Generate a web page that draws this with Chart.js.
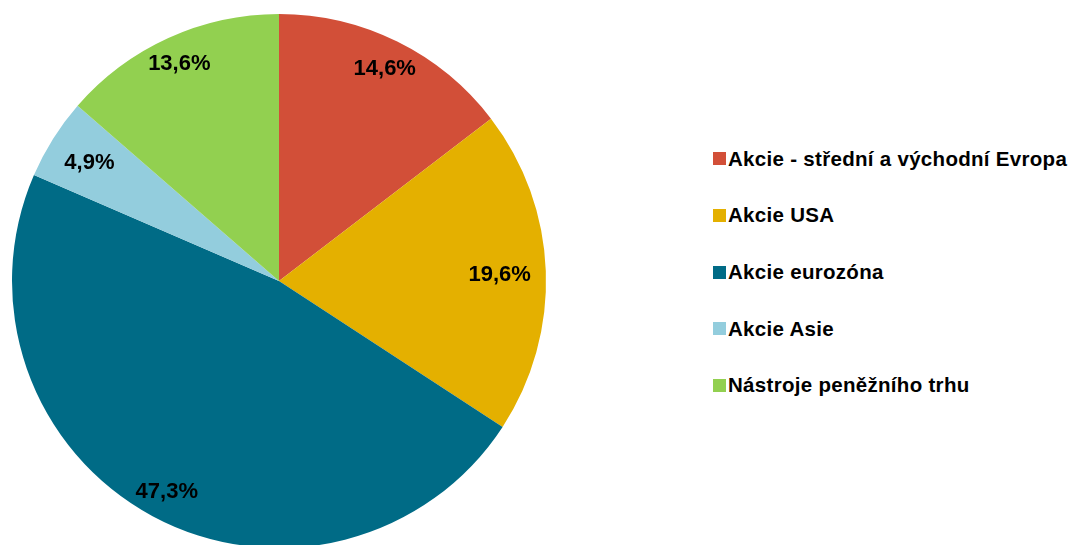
<!DOCTYPE html>
<html>
<head>
<meta charset="utf-8">
<script src="https://cdn.jsdelivr.net/npm/chart.js@4/dist/chart.umd.min.js"></script>
<style>
  html, body { margin: 0; padding: 0; background: #fff; overflow: hidden; width: 1073px; height: 545px; }
  #wrap { position: absolute; left: 0; top: 0; width: 560px; height: 562px; }
  #legend { position: absolute; left: 713px; top: 130.35px; font-family: "Liberation Sans", Arial, sans-serif; font-weight: bold; font-size: 20.5px; letter-spacing: 0.3px; color: #000; }
  .item { height: 56.7px; display: flex; align-items: center; white-space: nowrap; }
  .sw { width: 12.5px; height: 13px; margin-right: 2.5px; flex: none; }
</style>
</head>
<body>
<div id="wrap"><canvas id="c"></canvas></div>
<div id="legend"></div>
<script>
const categories = ["Akcie - střední a východní Evropa", "Akcie USA", "Akcie eurozóna", "Akcie Asie", "Nástroje peněžního trhu"];
const values = [14.6, 19.6, 47.3, 4.9, 13.6];
const valueLabels = ["14,6%", "19,6%", "47,3%", "4,9%", "13,6%"];
const colors = ["#D24F38", "#E4B000", "#006B86", "#93CDDD", "#92D050"];

const labelPlugin = {
  id: 'sliceLabels',
  afterDatasetsDraw(chart) {
    const ctx = chart.ctx;
    const meta = chart.getDatasetMeta(0);
    const size = 22;
    ctx.save();
    ctx.font = "bold " + size + "px 'Liberation Sans', Arial, sans-serif";
    ctx.fillStyle = "#000";
    ctx.textAlign = "center";
    ctx.textBaseline = "alphabetic";
    meta.data.forEach((arc, i) => {
      const p = arc.getProps(['x', 'y', 'startAngle', 'endAngle', 'outerRadius'], true);
      const a = (p.startAngle + p.endAngle) / 2;
      const txt = valueLabels[i];
      const w = ctx.measureText(txt).width;
      const dist = p.outerRadius + 28 - (w / 2 + 42) * Math.abs(Math.cos(a)) - 26.5 * Math.abs(Math.sin(a));
      const cx = p.x + dist * Math.cos(a);
      const cy = p.y + dist * Math.sin(a);
      ctx.fillText(txt, cx, cy + 0.716 * size / 2);
    });
    ctx.restore();
  }
};

new Chart(document.getElementById('c'), {
  type: 'pie',
  data: {
    labels: categories,
    datasets: [{ data: values, backgroundColor: colors, borderWidth: 0 }]
  },
  options: {
    responsive: true,
    maintainAspectRatio: false,
    animation: false,
    layout: { padding: { left: 12, right: 14, top: 14, bottom: 14 } },
    plugins: { legend: { display: false }, tooltip: { enabled: false } }
  },
  plugins: [labelPlugin]
});

const leg = document.getElementById('legend');
categories.forEach((c, i) => {
  const d = document.createElement('div');
  d.className = 'item';
  const s = document.createElement('span');
  s.className = 'sw';
  s.style.background = colors[i];
  const t = document.createElement('span');
  t.textContent = c;
  d.appendChild(s); d.appendChild(t);
  leg.appendChild(d);
});
</script>
</body>
</html>
